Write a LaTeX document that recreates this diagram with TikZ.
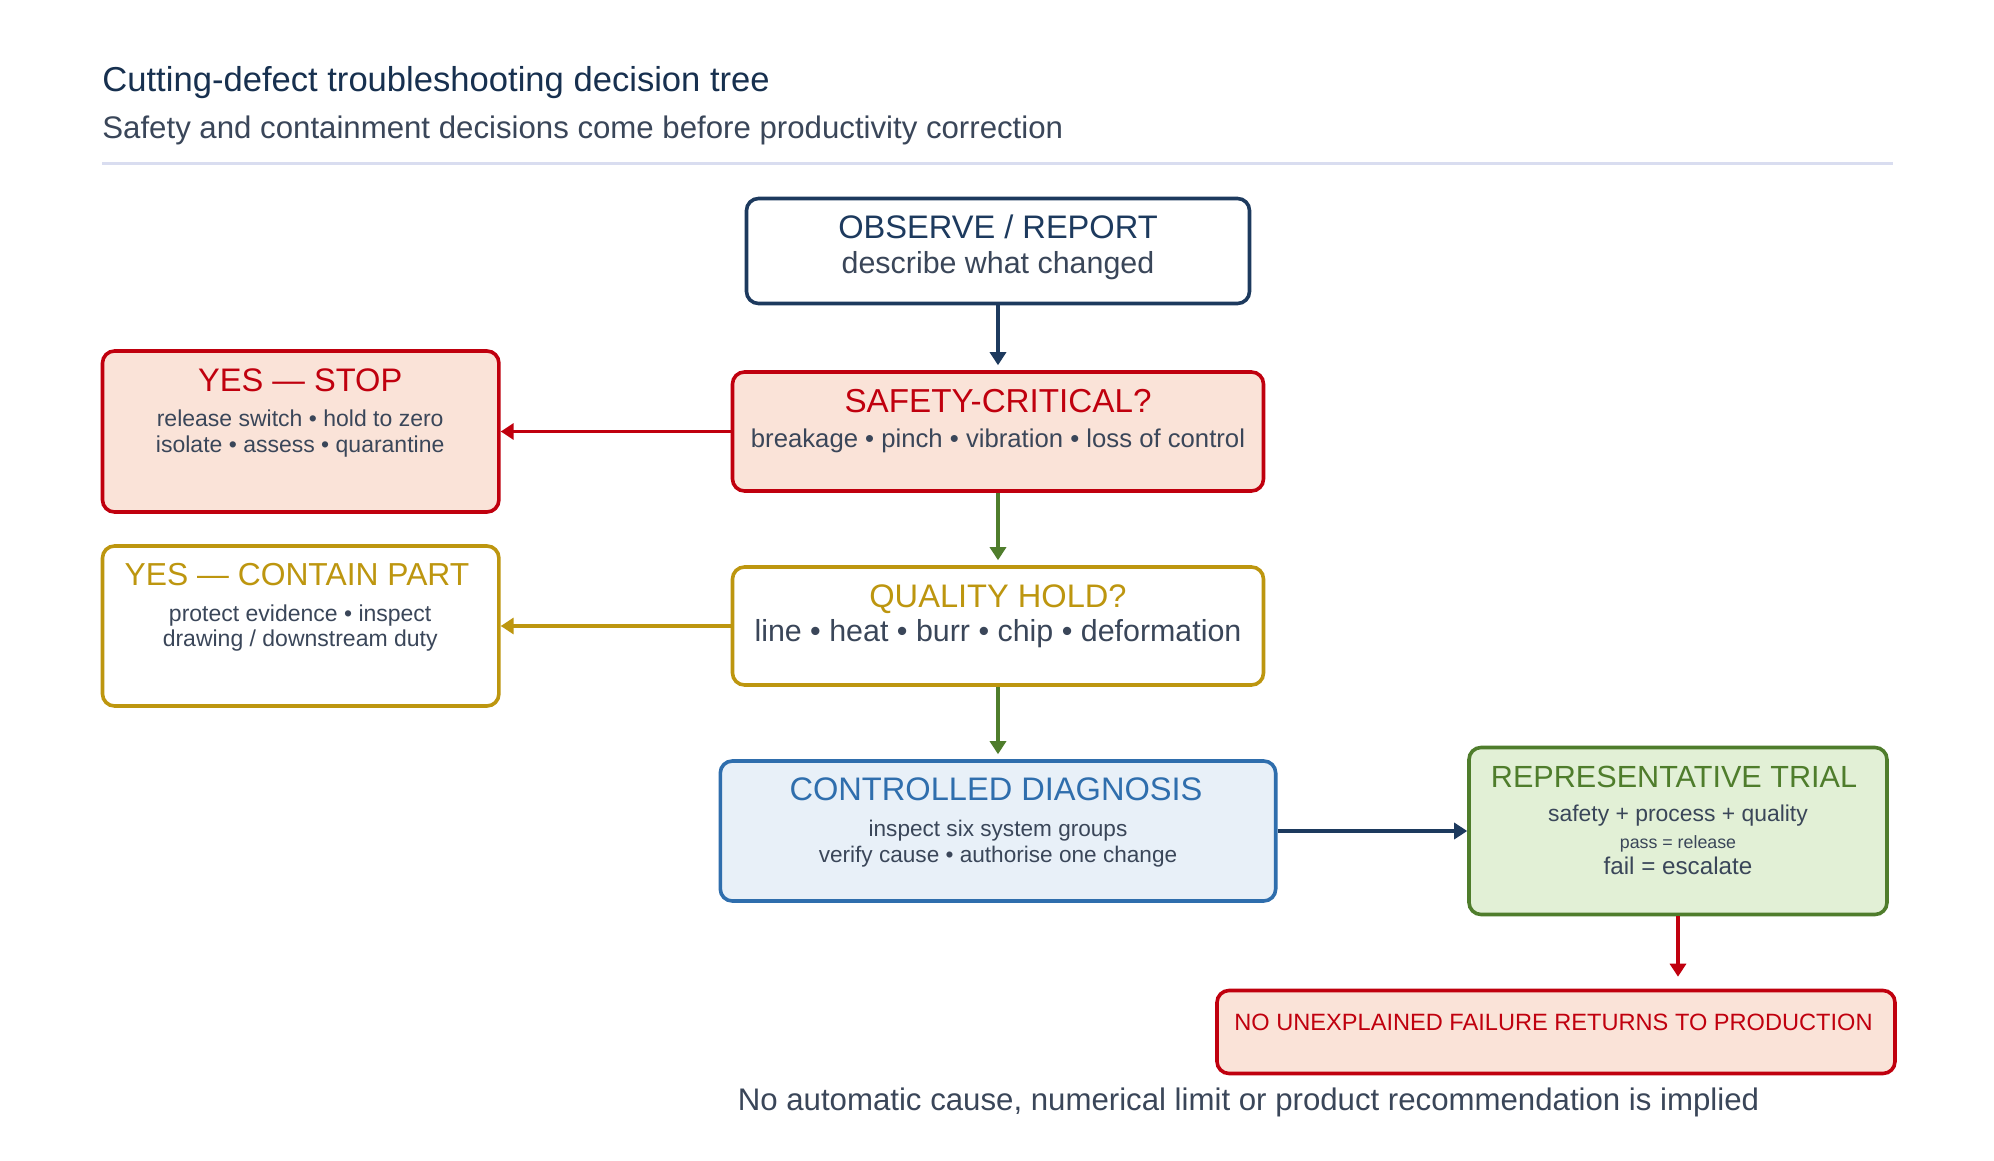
\documentclass[tikz,border=0pt]{standalone}
\usepackage{fontspec}
\setmainfont{Liberation Sans}
\usetikzlibrary{arrows.meta}
\definecolor{navy}{HTML}{1D3A5E}
\definecolor{titleink}{HTML}{17304F}
\definecolor{ink}{HTML}{3A4659}
\definecolor{redc}{HTML}{C0000E}
\definecolor{redfill}{HTML}{FAE3D8}
\definecolor{gold}{HTML}{BD960F}
\definecolor{greenc}{HTML}{4F7D2C}
\definecolor{greenfill}{HTML}{E2F0D6}
\definecolor{bluec}{HTML}{2F6EAD}
\definecolor{bluefill}{HTML}{E8F0F8}
\definecolor{rulec}{HTML}{D9DDF0}
\newcommand{\fs}[1]{\fontsize{#1}{#1}\selectfont}
\begin{document}
\begin{tikzpicture}[x=0.5pt,y=-0.5pt,
  box/.style={draw, rounded corners=6pt, line width=1.8pt, inner sep=0pt},
  txt/.style={anchor=base, inner sep=0pt, text=ink},
  head/.style={anchor=base, inner sep=0pt, font=\fs{16.3}},
  arr/.style={-{Triangle[length=6.5pt,width=8pt]}, line width=1.8pt},
]
\useasboundingbox[fill=white] (0,0) rectangle (1994,1161);

% title
\node[anchor=base west, inner sep=0pt, text=titleink, font=\fs{17.3}] (title) at (102,91.7) {Cutting-defect troubleshooting decision tree};
\node[anchor=base west, inner sep=0pt, text=ink, font=\fs{15.6}] (subtitle) at (102,138.3) {Safety and containment decisions come before productivity correction};
\coordinate (r1) at (102,163.5);
\coordinate (r2) at (1893,163.5);
\draw[rulec, line width=1.1pt] (r1) -- (r2);

% boxes
\node[box, draw=navy, fill=white, minimum width=251.5pt, minimum height=52.5pt] (obs) at (998,251) {};
\node[box, draw=redc, fill=redfill, minimum width=265.5pt, minimum height=59.5pt] (safe) at (998,431.5) {};
\node[box, draw=gold, fill=white, minimum width=265.5pt, minimum height=59pt] (qual) at (998,626) {};
\node[box, draw=redc, fill=redfill, minimum width=198.2pt, minimum height=80.5pt] (stop) at (300.7,431.5) {};
\node[box, draw=gold, fill=white, minimum width=198.2pt, minimum height=80pt] (cont) at (300.7,626) {};
\node[box, draw=bluec, fill=bluefill, minimum width=277.7pt, minimum height=70pt] (diag) at (998,831) {};
\node[box, draw=greenc, fill=greenfill, minimum width=209pt, minimum height=83.5pt] (rep) at (1678,831) {};
\node[box, draw=redc, fill=redfill, minimum width=339pt, minimum height=41.5pt] (noun) at (1556,1032) {};

% texts
\node[head, text=navy] (obsT) at (998,239) {OBSERVE / REPORT};
\node[txt, font=\fs{15.2}] (obsS) at (998,273) {describe what changed};

\node[head, text=redc, font=\fs{16.6}] (safeT) at (998,412) {SAFETY-CRITICAL?};
\node[txt, font=\fs{12.85}] (safeS) at (998,447) {breakage • pinch • vibration • loss of control};

\node[head, text=gold] (qualT) at (998,607) {QUALITY HOLD?};
\node[txt, font=\fs{15.2}] (qualS) at (998,641) {line • heat • burr • chip • deformation};

\node[head, text=redc] (stopT) at (300.2,391) {YES — STOP};
\node[txt, font=\fs{11.5}] (stopS1) at (300.2,426) {release switch • hold to zero};
\node[txt, font=\fs{11.5}] (stopS2) at (300.2,452.7) {isolate • assess • quarantine};

\node[head, text=gold, font=\fs{15.9}] (contT) at (297,585.7) {YES — CONTAIN PART};
\node[txt, font=\fs{11.5}] (contS1) at (300.2,621.7) {protect evidence • inspect};
\node[txt, font=\fs{11.5}] (contS2) at (300.2,646.7) {drawing / downstream duty};

\node[head, text=bluec] (diagT) at (996,800.7) {CONTROLLED DIAGNOSIS};
\node[txt, font=\fs{11.3}] (diagS1) at (998,836) {inspect six system groups};
\node[txt, font=\fs{11.3}] (diagS2) at (998,862.7) {verify cause • authorise one change};

\node[head, text=greenc, font=\fs{15.3}] (repT) at (1674,787.7) {REPRESENTATIVE TRIAL};
\node[txt, font=\fs{11.45}] (repS1) at (1678,821.7) {safety + process + quality};
\node[txt, font=\fs{8.9}] (repS2) at (1678,848) {pass = release};
\node[txt, font=\fs{12.1}] (repS3) at (1678,874) {fail = escalate};

\node[anchor=base, inner sep=0pt, text=redc, font=\fs{11.8}] (nounT) at (1553.5,1030) {NO UNEXPLAINED FAILURE RETURNS TO PRODUCTION};

\node[anchor=base, inner sep=0pt, text=ink, font=\fs{15.6}] (foot) at (1248.5,1110) {No automatic cause, numerical limit or product recommendation is implied};

% connectors
\draw[arr, navy, shorten >=2.5pt] (obs.south) -- (safe.north);
\draw[arr, redc, line width=1.8pt] (safe.west) -- (stop.east);
\draw[arr, greenc, line width=1.7pt, shorten >=2.5pt] (safe.south) -- (qual.north);
\draw[arr, gold, line width=1.8pt] (qual.west) -- (cont.east);
\draw[arr, greenc, line width=1.7pt, shorten >=2.5pt] (qual.south) -- (diag.north);
\draw[arr, navy, line width=2.2pt] (diag.east) -- (rep.west);
\draw[arr, redc, line width=1.6pt, shorten >=6pt] (rep.south) -- (rep.south |- noun.north);
\end{tikzpicture}
\end{document}
